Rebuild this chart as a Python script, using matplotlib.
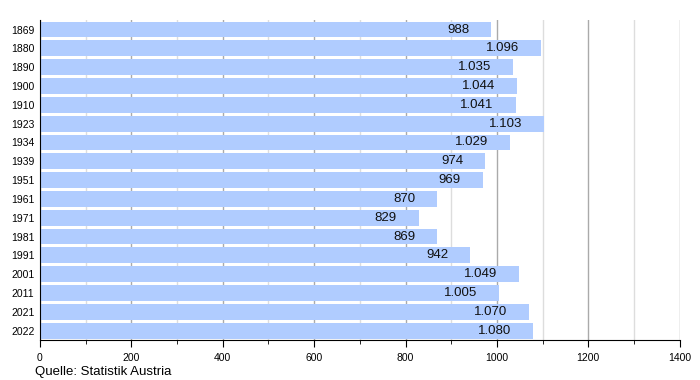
import numpy as np
import matplotlib.pyplot as plt
from matplotlib.ticker import MultipleLocator

plt.rcParams['font.family'] = ['Liberation Sans', 'DejaVu Sans']

years = ["1869", "1880", "1890", "1900", "1910", "1923", "1934", "1939", "1951",
         "1961", "1971", "1981", "1991", "2001", "2011", "2021", "2022"]
values = [988, 1096, 1035, 1044, 1041, 1103, 1029, 974, 969,
          870, 829, 869, 942, 1049, 1005, 1070, 1080]
labels = ["988", "1.096", "1.035", "1.044", "1.041", "1.103", "1.029", "974", "969",
          "870", "829", "869", "942", "1.049", "1.005", "1.070", "1.080"]

fig = plt.figure(figsize=(7, 3.8), dpi=100)
ax = fig.add_axes([0.057, 0.105, 0.914, 0.842])
ax.set_axisbelow(True)

y = np.arange(len(years))
ax.barh(y, values, height=0.84, color="#b0ccff", zorder=2)

for yi, v, lab in zip(y, values, labels):
    ax.annotate(lab, (v, yi), xytext=(-22, 0), textcoords="offset pixels",
                ha="right", va="center", fontsize=9.5, color="#111111", zorder=3)

ax.set_xlim(0, 1400)
ax.set_ylim(len(years) - 0.5, -0.5)
ax.set_yticks(y)
ax.set_yticklabels(years, fontsize=7.5)
ax.tick_params(axis="y", length=0, pad=4)

ax.xaxis.set_major_locator(MultipleLocator(200))
ax.xaxis.set_minor_locator(MultipleLocator(100))
ax.tick_params(axis="x", which="major", length=5, labelsize=7.5, pad=4)
ax.tick_params(axis="x", which="minor", length=3)
ax.grid(axis="x", which="major", color="#aaaaaa", linewidth=1)
ax.grid(axis="x", which="minor", color="#dddddd", linewidth=1)

for side in ["top", "right"]:
    ax.spines[side].set_visible(False)
ax.spines["left"].set_color("black")
ax.spines["bottom"].set_color("black")

fig.text(0.05, 0.005, "Quelle: Statistik Austria", fontsize=9.5, ha="left", va="bottom")

fig.savefig("out.png", dpi=100)
